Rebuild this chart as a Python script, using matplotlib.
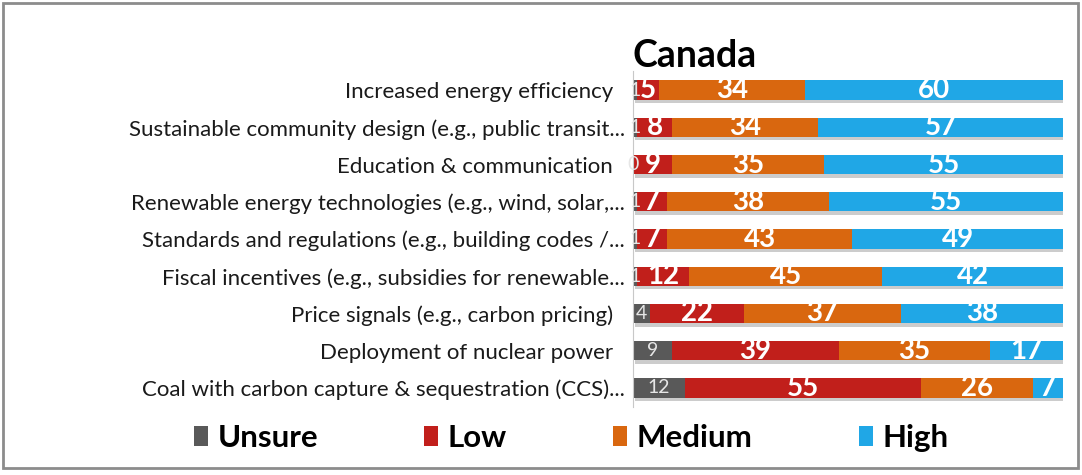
import matplotlib.pyplot as plt
import matplotlib.patheffects as pe
from matplotlib.patches import Rectangle, Patch
import numpy as np

# survey shares (%) for each policy option, top row first
categories = [
    "Increased energy efficiency  ",
    "Sustainable community design (e.g., public transit...",
    "Education & communication  ",
    "Renewable energy technologies (e.g., wind, solar,...",
    "Standards and regulations (e.g., building codes /...",
    "Fiscal incentives (e.g., subsidies for renewable...",
    "Price signals (e.g., carbon pricing)  ",
    "Deployment of nuclear power  ",
    "Coal with carbon capture & sequestration (CCS)...",
]
unsure = [1, 1, 0, 1, 1, 1, 4, 9, 12]
low = [5, 8, 9, 7, 7, 12, 22, 39, 55]
medium = [34, 34, 35, 38, 43, 45, 37, 35, 26]
high = [60, 57, 55, 55, 49, 42, 38, 17, 7]

series = ["Unsure", "Low", "Medium", "High"]
colors = ["#595959", "#c11f1b", "#d9670f", "#20a7e6"]

fig = plt.figure(figsize=(10.82, 4.75), dpi=100)
ax = fig.add_axes([0.585, 0.144, 0.3974, 0.7057])

fam = ["Lato", "DejaVu Sans"]
data = np.array([unsure, low, medium, high], dtype=float)
totals = data.sum(axis=0)
shares = data / totals * 100  # 100% stacked

y = np.arange(len(categories))
left = np.zeros(len(categories))
shadow = [pe.SimplePatchShadow(offset=(1.5, -2.5), shadow_rgbFace="#9a9a9a", alpha=0.5), pe.Normal()]
for i, name in enumerate(series):
    bars = ax.barh(y, shares[i], left=left, height=0.52, color=colors[i],
                   path_effects=shadow, zorder=2)
    labels = [str(int(v)) for v in data[i]]
    if name == "Unsure":
        ax.bar_label(bars, labels=labels, label_type="center", color="#e6e6e6",
                     fontsize=14, family=fam, zorder=3)
    else:
        ax.bar_label(bars, labels=labels, label_type="center", color="white",
                     fontsize=20, fontweight="bold", family=fam, zorder=4)
    left += shares[i]

ax.set_xlim(0, 100)
ax.set_ylim(len(categories) - 0.5, -0.5)
ax.set_yticks(y)
ax.set_yticklabels(categories, fontsize=16, family=fam, color="#1a1a1a")
ax.tick_params(axis="y", length=0, pad=6)
ax.set_xticks([])
for s in ["top", "right", "bottom"]:
    ax.spines[s].set_visible(False)
ax.spines["left"].set_color("#c8c8c8")

ax.text(0, 0.995, "Canada", transform=ax.transAxes, ha="left", va="bottom",
        fontsize=27, fontweight="bold", family=fam, color="black")

handles = [Patch(facecolor=c) for c in colors]
fig.legend(handles=handles, labels=series, loc="center", bbox_to_anchor=(0.528, 0.078),
           ncol=4, frameon=False, handlelength=0.45, handleheight=0.65, handletextpad=0.3,
           columnspacing=3.4, prop={"family": fam, "weight": "bold", "size": 22.5})

fig.patches.append(Rectangle((0.003, 0.015), 0.993, 0.978, transform=fig.transFigure,
                             fill=False, edgecolor="#8c8c8c", linewidth=2))

fig.savefig("out.png", dpi=100)
